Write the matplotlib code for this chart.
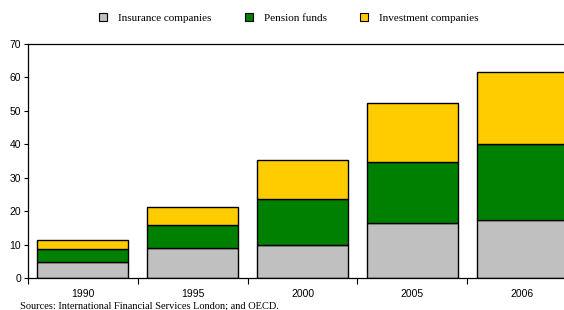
import matplotlib
matplotlib.use("Agg")
import matplotlib.pyplot as plt
from matplotlib.patches import Patch
import numpy as np

years = ["1990", "1995", "2000", "2005", "2006"]
insurance = [4.7, 9.0, 10.0, 16.5, 17.3]
pension = [3.9, 6.9, 13.6, 18.1, 22.7]
investment = [2.9, 5.3, 11.7, 17.8, 21.6]
series_names = ["Insurance companies", "Pension funds", "Investment companies"]
colors = ["#C0C0C0", "#008000", "#FFCC00"]
yticks = [0, 10, 20, 30, 40, 50, 60, 70]
source = "Sources: International Financial Services London; and OECD."

fig = plt.figure(figsize=(5.64, 3.10), dpi=100)
ax = fig.add_axes([28/564, 32/310, 549/564, 234/310])

x = np.arange(len(years))
w = 0.83
bottom = np.zeros(len(years))
for vals, col in zip([insurance, pension, investment], colors):
    ax.bar(x, vals, w, bottom=bottom, color=col, edgecolor="black", linewidth=1.0)
    bottom += np.array(vals)

ax.set_xlim(-0.5, len(years) - 0.5)
ax.set_ylim(0, 70)
ax.set_yticks(yticks)
ax.set_yticklabels([str(t) for t in yticks], fontsize=7.5, family="Liberation Sans")
ax.set_xticks(np.arange(-0.5, len(years), 1.0))
ax.set_xticklabels([])
ax.set_xticks(x, minor=True)
ax.set_xticklabels(years, minor=True, fontsize=7.5, family="Liberation Sans")
ax.tick_params(axis="x", which="major", direction="out", length=4, width=0.8)
ax.tick_params(axis="x", which="minor", length=0, pad=8)
ax.tick_params(axis="y", direction="out", length=3, width=0.8, pad=2)
for s in ["left", "bottom", "top"]:
    ax.spines[s].set_linewidth(0.9)
ax.spines["right"].set_visible(False)

handles = [Patch(facecolor=c, edgecolor="black", linewidth=0.8) for c in colors]
fig.legend(handles, series_names, loc="center", bbox_to_anchor=(0.512, 0.942), ncol=3,
           frameon=False, prop={"family": "Liberation Serif", "size": 8},
           handlelength=0.7, handleheight=0.7, columnspacing=3.0, handletextpad=1.0,
           borderaxespad=0, borderpad=0)

fig.text(20/564, 1 - 306/310, source, fontsize=7.5, family="Liberation Serif",
         va="center", ha="left")

fig.savefig("out.png", dpi=100)
